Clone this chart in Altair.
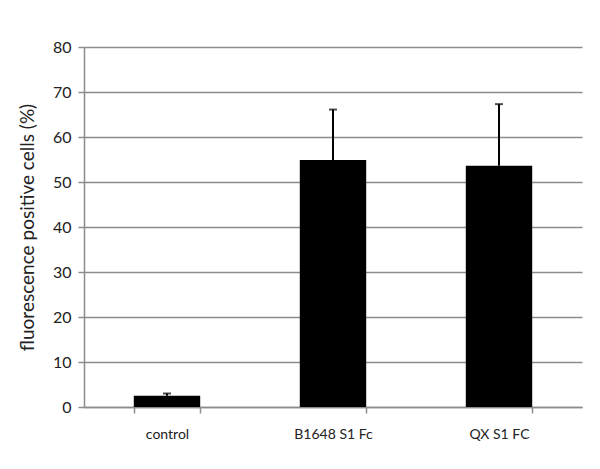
import altair as alt
import pandas as pd

categories = ["control", "B1648 S1 Fc", "QX S1 FC"]
values = [2.5, 54.9, 53.6]
errors = [0.5, 11.2, 13.7]

df = pd.DataFrame({"cat": categories, "val": values, "err": errors})
df["top"] = df["val"] + df["err"]

FONT = "Lato"
GRID = "#8c8c8c"

x = alt.X(
    "cat:N",
    sort=categories,
    title=None,
    scale=alt.Scale(paddingInner=0.6, paddingOuter=0.3),
    axis=alt.Axis(
        labelAngle=0,
        tickBand="extent",
        tickSize=6,
        tickColor=GRID,
        tickWidth=1.5,
        domainColor=GRID,
        domainWidth=1.5,
        labelFont=FONT,
        labelFontSize=14,
        labelColor="#222222",
        labelPadding=14,
        grid=False,
    ),
)

y_axis = alt.Axis(
    values=[0, 10, 20, 30, 40, 50, 60, 70, 80],
    tickSize=6,
    tickColor=GRID,
    tickWidth=1.5,
    domainColor=GRID,
    domainWidth=1.5,
    gridColor=GRID,
    gridWidth=1.5,
    labelFont=FONT,
    labelFontSize=16,
    labelColor="#222222",
    labelPadding=7,
    title="fluorescence positive cells (%)",
    titleFont=FONT,
    titleFontSize=19,
    titleFontWeight="normal",
    titleColor="#222222",
    titlePadding=15,
)

base = alt.Chart(df)

bars = base.mark_bar(color="black").encode(
    x=x,
    y=alt.Y("val:Q", scale=alt.Scale(domain=[0, 80], nice=False), axis=y_axis),
)

err_rule = base.mark_rule(color="black", strokeWidth=2).encode(
    x=alt.X("cat:N", sort=categories),
    y="val:Q",
    y2="top:Q",
)

caps = base.mark_tick(color="black", thickness=2, size=8, orient="horizontal").encode(
    x=alt.X("cat:N", sort=categories),
    y="top:Q",
)

chart = (
    alt.layer(bars, err_rule, caps)
    .properties(
        width=498,
        height=360,
        autosize=alt.AutoSizeParams(type="none"),
        padding={"left": 76, "top": 39, "right": 10, "bottom": 54},
        background="white",
    )
    .configure_view(stroke=None)
)

chart.save("out.html", embed_options={"renderer": "svg", "actions": False})
